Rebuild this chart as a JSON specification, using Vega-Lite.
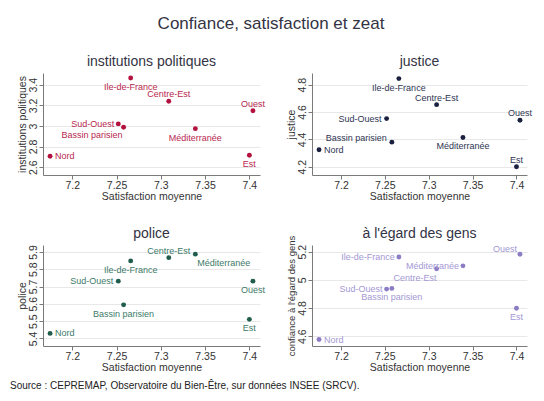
{
  "$schema": "https://vega.github.io/schema/vega-lite/v6.json",
  "background": "white",
  "padding": {"left": 10, "top": 15, "right": 5, "bottom": 5},
  "title": {"text": "Confiance, satisfaction et zeat", "fontSize": 17, "anchor": "middle", "offset": 22, "color": "#333344", "fontWeight": "normal"},
  "data": {"values": [
    {"region": "Nord", "satisfaction": 7.175, "institutions": 2.706, "justice": 4.324, "police": 5.429, "gens": 4.576},
    {"region": "Sud-Ouest", "satisfaction": 7.252, "institutions": 3.02, "justice": 4.552, "police": 5.731, "gens": 4.934},
    {"region": "Bassin parisien", "satisfaction": 7.258, "institutions": 2.987, "justice": 4.38, "police": 5.594, "gens": 4.939},
    {"region": "Ile-de-France", "satisfaction": 7.266, "institutions": 3.465, "justice": 4.844, "police": 5.848, "gens": 5.162},
    {"region": "Centre-Est", "satisfaction": 7.309, "institutions": 3.24, "justice": 4.654, "police": 5.867, "gens": 5.078},
    {"region": "Méditerranée", "satisfaction": 7.339, "institutions": 2.974, "justice": 4.414, "police": 5.887, "gens": 5.099},
    {"region": "Est", "satisfaction": 7.4, "institutions": 2.716, "justice": 4.2, "police": 5.51, "gens": 4.798},
    {"region": "Ouest", "satisfaction": 7.404, "institutions": 3.147, "justice": 4.54, "police": 5.731, "gens": 5.181}
  ]},
  "vconcat": [
    {
      "title": {"text": "Source : CEPREMAP, Observatoire du Bien-Être, sur données INSEE (SRCV).", "orient": "bottom", "anchor": "start", "fontSize": 10, "color": "#222222", "fontWeight": "normal", "offset": 8, "dx": -7},
      "spacing": 24,
      "vconcat": [
        {
          "spacing": 52,
          "bounds": "flush",
          "hconcat": [
            {
              "width": 217, "height": 102,
              "title": {"text": "institutions politiques", "fontSize": 14, "offset": 4},
              "encoding": {
                "x": {"field": "satisfaction", "type": "quantitative", "scale": {"domain": [7.167, 7.412], "nice": false, "zero": false}, "axis": {"values": [7.2, 7.25, 7.3, 7.35, 7.4], "title": "Satisfaction moyenne", "grid": false, "format": "~g"}},
                "y": {"field": "institutions", "type": "quantitative", "scale": {"domain": [2.524, 3.514], "nice": false, "zero": false}, "axis": {"values": [2.6, 2.8, 3, 3.2, 3.4], "title": "institutions politiques", "format": "~g", "labelAngle": -90, "labelAlign": "center", "labelBaseline": "bottom"}}
              },
              "layer": [
                {"mark": {"type": "point", "filled": true, "size": 24, "opacity": 1, "color": "#b3123f"}},
                {"transform": [{"filter": {"field": "region", "oneOf": ["Nord"]}}], "mark": {"type": "text", "fontSize": 9, "align": "left", "baseline": "middle", "dx": 5, "color": "#b8284f"}, "encoding": {"text": {"field": "region"}}},
                {"transform": [{"filter": {"field": "region", "oneOf": ["Sud-Ouest"]}}], "mark": {"type": "text", "fontSize": 9, "align": "right", "baseline": "middle", "dx": -4, "color": "#b8284f"}, "encoding": {"text": {"field": "region"}}},
                {"transform": [{"filter": {"field": "region", "oneOf": ["Centre-Est", "Ouest"]}}], "mark": {"type": "text", "fontSize": 9, "align": "center", "baseline": "middle", "dy": -7, "color": "#b8284f"}, "encoding": {"text": {"field": "region"}}},
                {"transform": [{"filter": {"field": "region", "oneOf": ["Ile-de-France", "Méditerranée", "Est"]}}], "mark": {"type": "text", "fontSize": 9, "align": "center", "baseline": "middle", "dy": 9, "color": "#b8284f"}, "encoding": {"text": {"field": "region"}}},
                {"transform": [{"filter": {"field": "region", "oneOf": ["Bassin parisien"]}}], "mark": {"type": "text", "fontSize": 9, "align": "right", "baseline": "middle", "dx": -1, "dy": 8, "color": "#b8284f"}, "encoding": {"text": {"field": "region"}}}
              ]
            },
            {
              "width": 215, "height": 102,
              "title": {"text": "justice", "fontSize": 14, "offset": 4},
              "encoding": {
                "x": {"field": "satisfaction", "type": "quantitative", "scale": {"domain": [7.167, 7.412], "nice": false, "zero": false}, "axis": {"values": [7.2, 7.25, 7.3, 7.35, 7.4], "title": "Satisfaction moyenne", "grid": false, "format": "~g"}},
                "y": {"field": "justice", "type": "quantitative", "scale": {"domain": [4.14, 4.885], "nice": false, "zero": false}, "axis": {"values": [4.2, 4.4, 4.6, 4.8], "title": "justice", "format": "~g", "labelAngle": -90, "labelAlign": "center", "labelBaseline": "bottom"}}
              },
              "layer": [
                {"mark": {"type": "point", "filled": true, "size": 24, "opacity": 1, "color": "#1b2040"}},
                {"transform": [{"filter": {"field": "region", "oneOf": ["Nord"]}}], "mark": {"type": "text", "fontSize": 9, "align": "left", "baseline": "middle", "dx": 5, "color": "#2e3452"}, "encoding": {"text": {"field": "region"}}},
                {"transform": [{"filter": {"field": "region", "oneOf": ["Sud-Ouest"]}}], "mark": {"type": "text", "fontSize": 9, "align": "right", "baseline": "middle", "dx": -5, "color": "#2e3452"}, "encoding": {"text": {"field": "region"}}},
                {"transform": [{"filter": {"field": "region", "oneOf": ["Bassin parisien"]}}], "mark": {"type": "text", "fontSize": 9, "align": "right", "baseline": "middle", "dx": -5, "dy": -4, "color": "#2e3452"}, "encoding": {"text": {"field": "region"}}},
                {"transform": [{"filter": {"field": "region", "oneOf": ["Centre-Est", "Ouest", "Est"]}}], "mark": {"type": "text", "fontSize": 9, "align": "center", "baseline": "middle", "dy": -7, "color": "#2e3452"}, "encoding": {"text": {"field": "region"}}},
                {"transform": [{"filter": {"field": "region", "oneOf": ["Ile-de-France", "Méditerranée"]}}], "mark": {"type": "text", "fontSize": 9, "align": "center", "baseline": "middle", "dy": 9, "color": "#2e3452"}, "encoding": {"text": {"field": "region"}}}
              ]
            }
          ]
        },
        {
          "spacing": 52,
          "bounds": "flush",
          "hconcat": [
            {
              "width": 217, "height": 101,
              "title": {"text": "police", "fontSize": 14, "offset": 4},
              "encoding": {
                "x": {"field": "satisfaction", "type": "quantitative", "scale": {"domain": [7.167, 7.412], "nice": false, "zero": false}, "axis": {"values": [7.2, 7.25, 7.3, 7.35, 7.4], "title": "Satisfaction moyenne", "grid": false, "format": "~g"}},
                "y": {"field": "police", "type": "quantitative", "scale": {"domain": [5.356, 5.94], "nice": false, "zero": false}, "axis": {"values": [5.4, 5.5, 5.6, 5.7, 5.8, 5.9], "title": "police", "format": "~g", "labelAngle": -90, "labelAlign": "center", "labelBaseline": "bottom"}}
              },
              "layer": [
                {"mark": {"type": "point", "filled": true, "size": 24, "opacity": 1, "color": "#205c4b"}},
                {"transform": [{"filter": {"field": "region", "oneOf": ["Nord"]}}], "mark": {"type": "text", "fontSize": 9, "align": "left", "baseline": "middle", "dx": 5, "color": "#3d7a68"}, "encoding": {"text": {"field": "region"}}},
                {"transform": [{"filter": {"field": "region", "oneOf": ["Sud-Ouest"]}}], "mark": {"type": "text", "fontSize": 9, "align": "right", "baseline": "middle", "dx": -5, "color": "#3d7a68"}, "encoding": {"text": {"field": "region"}}},
                {"transform": [{"filter": {"field": "region", "oneOf": ["Centre-Est"]}}], "mark": {"type": "text", "fontSize": 9, "align": "center", "baseline": "middle", "dy": -7, "color": "#3d7a68"}, "encoding": {"text": {"field": "region"}}},
                {"transform": [{"filter": {"field": "region", "oneOf": ["Ile-de-France", "Ouest", "Bassin parisien", "Est"]}}], "mark": {"type": "text", "fontSize": 9, "align": "center", "baseline": "middle", "dy": 9, "color": "#3d7a68"}, "encoding": {"text": {"field": "region"}}},
                {"transform": [{"filter": {"field": "region", "oneOf": ["Méditerranée"]}}], "mark": {"type": "text", "fontSize": 9, "align": "left", "baseline": "middle", "dx": 2, "dy": 9, "color": "#3d7a68"}, "encoding": {"text": {"field": "region"}}}
              ]
            },
            {
              "width": 215, "height": 101,
              "title": {"text": "à l'égard des gens", "fontSize": 14, "offset": 4, "dy": 10},
              "encoding": {
                "x": {"field": "satisfaction", "type": "quantitative", "scale": {"domain": [7.167, 7.412], "nice": false, "zero": false}, "axis": {"values": [7.2, 7.25, 7.3, 7.35, 7.4], "title": "Satisfaction moyenne", "grid": false, "format": "~g"}},
                "y": {"field": "gens", "type": "quantitative", "scale": {"domain": [4.53, 5.247], "nice": false, "zero": false}, "axis": {"values": [4.6, 4.8, 5, 5.2], "title": "confiance à l'égard des gens", "titleFontSize": 9.5, "format": "~g", "labelAngle": -90, "labelAlign": "center", "labelBaseline": "bottom"}}
              },
              "layer": [
                {"mark": {"type": "point", "filled": true, "size": 24, "opacity": 1, "color": "#8c7cc4"}},
                {"transform": [{"filter": {"field": "region", "oneOf": ["Nord"]}}], "mark": {"type": "text", "fontSize": 9, "align": "left", "baseline": "middle", "dx": 5, "color": "#a498d4"}, "encoding": {"text": {"field": "region"}}},
                {"transform": [{"filter": {"field": "region", "oneOf": ["Ile-de-France", "Méditerranée", "Sud-Ouest"]}}], "mark": {"type": "text", "fontSize": 9, "align": "right", "baseline": "middle", "dx": -4, "color": "#a498d4"}, "encoding": {"text": {"field": "region"}}},
                {"transform": [{"filter": {"field": "region", "oneOf": ["Ouest"]}}], "mark": {"type": "text", "fontSize": 9, "align": "right", "baseline": "middle", "dx": -3, "dy": -5, "color": "#a498d4"}, "encoding": {"text": {"field": "region"}}},
                {"transform": [{"filter": {"field": "region", "oneOf": ["Centre-Est"]}}], "mark": {"type": "text", "fontSize": 9, "align": "right", "baseline": "middle", "dx": 0, "dy": 9, "color": "#a498d4"}, "encoding": {"text": {"field": "region"}}},
                {"transform": [{"filter": {"field": "region", "oneOf": ["Bassin parisien", "Est"]}}], "mark": {"type": "text", "fontSize": 9, "align": "center", "baseline": "middle", "dy": 9, "color": "#a498d4"}, "encoding": {"text": {"field": "region"}}}
              ]
            }
          ]
        }
      ]
    }
  ],
  "config": {
    "font": "Liberation Sans",
    "view": {"stroke": null},
    "axis": {"domainColor": "#7a7a7a", "tickColor": "#7a7a7a", "labelColor": "#333333", "titleColor": "#333333", "labelFontSize": 10.5, "titleFontSize": 10.5, "titleFontWeight": "normal", "gridColor": "#e8e8e8", "tickSize": 4, "labelPadding": 1, "titlePadding": 1},
    "title": {"fontWeight": "normal", "color": "#333344"}
  }
}
